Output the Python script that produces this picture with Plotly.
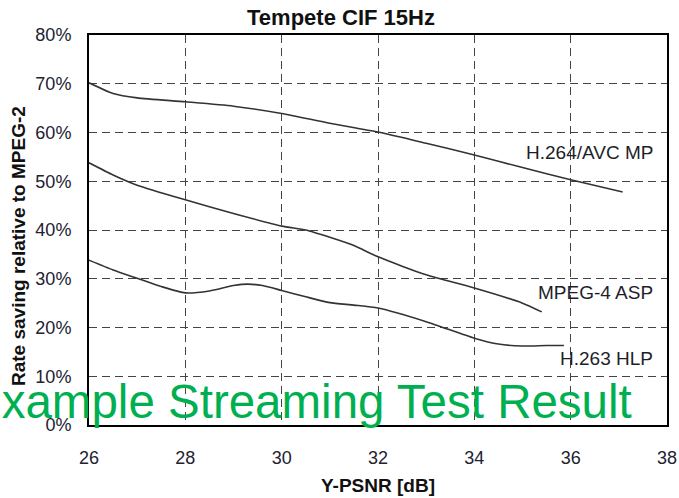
import plotly.graph_objects as go

# Rate saving relative to MPEG-2 vs. Y-PSNR, Tempete CIF 15Hz
h264_psnr = [26, 26.5, 27, 28, 29, 30, 31, 32, 33, 34, 35, 36, 37.08]
h264_saving = [70.2, 68.0, 67.1, 66.3, 65.4, 63.9, 61.9, 60.1, 57.8, 55.4, 52.8, 50.3, 47.8]

mpeg4_psnr = [26, 26.5, 27, 28, 29, 30, 30.5, 31, 31.5, 32, 33, 34, 35, 35.4]
mpeg4_saving = [53.8, 51.3, 49.2, 46.2, 43.4, 40.8, 40.0, 38.5, 36.8, 34.5, 30.8, 28.1, 25.0, 23.2]

h263_psnr = [26, 26.5, 27, 27.5, 28, 28.5, 29, 29.3, 29.6, 30, 30.5, 31, 31.5, 32, 33, 34, 34.5, 35, 35.5, 35.86]
h263_saving = [33.8, 31.8, 30.1, 28.4, 27.1, 27.5, 28.6, 28.9, 28.6, 27.6, 26.3, 25.1, 24.6, 24.0, 21.2, 17.8, 16.6, 16.2, 16.3, 16.3]

x_ticks = [26, 28, 30, 32, 34, 36, 38]
y_ticks = [0, 10, 20, 30, 40, 50, 60, 70, 80]
y_tick_labels = [f"{v}%" for v in y_ticks]

series = [
    ("H.264/AVC MP", h264_psnr, h264_saving, 56.0),
    ("MPEG-4 ASP", mpeg4_psnr, mpeg4_saving, 27.1),
    ("H.263 HLP", h263_psnr, h263_saving, 13.7),
]

W, H = 679, 498
L, R, T, B = 89, 12, 35, 73
pw, ph = W - L - R, H - T - B


def px_x(x):
    return (x - L) / pw


def px_y(y):
    return (H - B - y) / ph


fig = go.Figure()
for name, xs, ys, _ in series:
    fig.add_trace(go.Scatter(
        x=xs, y=ys, mode="lines", name=name,
        line=dict(color="#333333", width=1.6, shape="spline", smoothing=0.6),
        showlegend=False,
    ))

sans = "Liberation Sans, Arial, sans-serif"
label_font = dict(family=sans, size=19, color="#1e1e2a")
for name, _, _, ly in series:
    fig.add_annotation(x=37.75, y=ly, xref="x", yref="y", text=name,
                       showarrow=False, xanchor="right", yanchor="middle",
                       font=label_font)

tick_font = dict(family=sans, size=18, color="#222230")
grid_kw = dict(showgrid=True, gridcolor="#444444", gridwidth=1.2, griddash="8px,5px",
               showline=True, linecolor="black", linewidth=2, mirror=True,
               zeroline=False, ticks="", tickfont=tick_font, automargin=False)

fig.update_xaxes(range=[26, 38], tickmode="array", tickvals=x_ticks,
                 ticklabelstandoff=15, **grid_kw)
fig.update_yaxes(range=[0, 80], tickmode="array", tickvals=y_ticks, ticktext=y_tick_labels,
                 ticklabelstandoff=12, **grid_kw)

# Axis titles
fig.add_annotation(x=px_x(378), y=px_y(486), xref="paper", yref="paper",
                   text="<b>Y-PSNR [dB]</b>", showarrow=False,
                   xanchor="center", yanchor="middle",
                   font=dict(family=sans, size=19, color="#111111"))
fig.add_annotation(x=px_x(18), y=px_y(246), xref="paper", yref="paper",
                   text="<b>Rate saving relative to MPEG-2</b>", showarrow=False,
                   textangle=-90, xanchor="center", yanchor="middle",
                   font=dict(family=sans, size=19, color="#111111"))

# Watermark
fig.add_annotation(x=px_x(301), y=px_y(401), xref="paper", yref="paper",
                   text="Example Streaming Test Result", showarrow=False,
                   xanchor="center", yanchor="middle",
                   font=dict(family=sans, size=47.5, color="#00b050"))

fig.update_layout(
    title=dict(text="<b>Tempete CIF 15Hz</b>", x=341 / W, xref="container", xanchor="center",
               y=1 - 17 / H, yref="container", yanchor="middle",
               font=dict(family=sans, size=22, color="#111111")),
    width=W, height=H,
    margin=dict(l=L, r=R, t=T, b=B, pad=0, autoexpand=False),
    plot_bgcolor="white", paper_bgcolor="white",
)

fig.write_html("out.html")
